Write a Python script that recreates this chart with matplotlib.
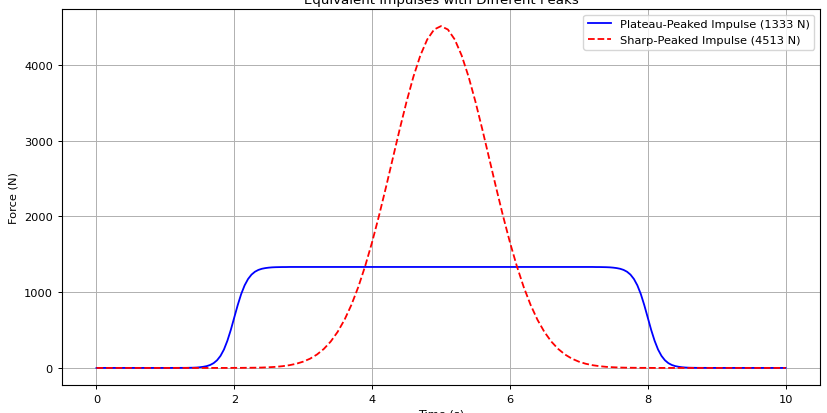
import numpy as np
import matplotlib
matplotlib.use("Agg")
import matplotlib.pyplot as plt

# time grids (s): finer steps where the plateau curve rises and falls
plateau_time = np.concatenate([
    [0.0, 0.5, 1.0],
    np.linspace(1.3, 2.8, 31),
    [3.0, 4.0, 5.0, 6.0, 7.0],
    np.linspace(7.2, 8.7, 31),
    [9.0, 9.5, 10.0],
])
sharp_time = np.linspace(0, 10, 101)

# plateau-peaked impulse force (N)
plateau_force = [
    0, 0, 0,
    1, 2, 3, 5, 9, 15, 24, 39, 63, 101, 159, 243, 359, 503, 667, 830,
    975, 1090, 1174, 1232, 1270, 1294, 1309, 1318, 1324, 1328, 1330, 1331, 1332, 1332, 1333,
    1333, 1333, 1333, 1333, 1333,
    1333, 1332, 1332, 1331, 1330, 1328, 1324, 1318, 1309, 1294, 1270, 1232, 1174, 1090, 975,
    830, 667, 503, 359, 243, 159, 101, 63, 39, 24, 15, 9, 5, 3, 2, 1,
    0, 0, 0,
]

# sharp-peaked impulse force (N)
sharp_force = [
    0, 0, 0, 0, 0, 0, 0, 0, 0, 0, 0, 0, 0, 0, 0, 0, 0, 0, 0, 0,
    1, 1, 2, 3, 5, 9, 14, 23, 36, 55, 83, 122, 177, 251, 349, 476,
    636, 833, 1069, 1346, 1660, 2008, 2380, 2765, 3149, 3515, 3846, 4125, 4336, 4468, 4513,
    4468, 4336, 4125, 3846, 3515, 3149, 2765, 2380, 2008, 1660, 1346, 1069, 833, 636, 476,
    349, 251, 177, 122, 83, 55, 36, 23, 14, 9, 5, 3, 2, 1, 1,
    0, 0, 0, 0, 0, 0, 0, 0, 0, 0, 0, 0, 0, 0, 0, 0, 0, 0, 0, 0,
]

plateau_label = "Plateau-Peaked Impulse (1333 N)"
sharp_label = "Sharp-Peaked Impulse (4513 N)"

fs = 8.2
fig = plt.figure(figsize=(8.28, 4.14), dpi=100)
ax = fig.add_axes([0.0749, 0.0676, 0.9154, 0.9082])
ax.plot(plateau_time, plateau_force, color="blue", lw=1.3, label=plateau_label)
ax.plot(sharp_time, sharp_force, color="red", ls="--", lw=1.3, label=sharp_label)
ax.set_title("Equivalent Impulses with Different Peaks", fontsize=9.6, pad=4)
ax.set_xlabel("Time (s)", fontsize=fs, labelpad=3)
ax.set_ylabel("Force (N)", fontsize=fs)
ax.tick_params(labelsize=fs, width=0.7, length=3)
for s in ax.spines.values():
    s.set_linewidth(0.8)
ax.legend(fontsize=fs, loc="upper right")
ax.grid(True, lw=0.7)
fig.savefig("out.png", dpi=100)
